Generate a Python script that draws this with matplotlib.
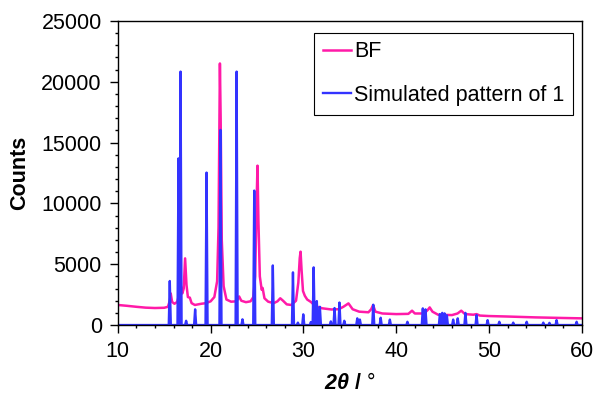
import numpy as np
import matplotlib
matplotlib.use("Agg")
import matplotlib.pyplot as plt
from matplotlib.ticker import MultipleLocator

plt.rcParams['font.family'] = ['Liberation Sans', 'DejaVu Sans']
plt.rcParams['mathtext.fontset'] = 'custom'
plt.rcParams['mathtext.rm'] = 'Liberation Sans'
plt.rcParams['mathtext.bf'] = 'Liberation Sans:bold'
plt.rcParams['mathtext.bfit'] = 'Liberation Sans:bold:italic'

bf_x = [10.0, 11.0, 12.0, 13.0, 14.0, 15.0, 15.4, 15.6, 15.7, 15.85, 16.1, 16.4, 16.6, 16.8,
        16.95, 17.1, 17.25, 17.4, 17.55, 17.76, 17.95, 18.3, 19.0, 19.5, 20.0, 20.4, 20.7,
        20.85, 20.95, 21.0, 21.08, 21.2, 21.4, 21.7, 22.2, 22.8, 23.07, 23.3, 23.8, 24.3,
        24.6, 24.8, 24.95, 25.05, 25.15, 25.3, 25.5, 25.6, 25.8, 26.2, 26.8, 27.2, 27.5,
        27.8, 28.2, 28.7, 29.2, 29.45, 29.6, 29.69, 29.8, 29.95, 30.15, 30.4, 30.8, 31.3,
        32.0, 33.0, 33.8, 34.3, 34.85, 35.3, 36.0, 37.0, 37.3, 37.5, 37.75, 38.5, 40.0,
        41.3, 41.7, 42.0, 43.0, 43.4, 43.6, 43.9, 44.5, 46.0, 46.6, 47.0, 47.4, 48.3,
        48.65, 49.0, 50.0, 52.0, 55.0, 58.0, 60.0]
bf_y = [1650, 1580, 1500, 1430, 1400, 1420, 1500, 2000, 2600, 1900, 1750, 1900, 2500, 3200,
        2600, 3000, 5480, 3300, 2300, 2250, 1800, 1650, 1750, 1800, 1950, 2300, 3600,
        8000, 17000, 21500, 17000, 7000, 3200, 2100, 1920, 1950, 2350, 2000, 1880, 1950,
        2300, 4000, 10000, 13100, 8500, 4000, 2900, 3050, 2200, 1920, 1800, 1950, 2200,
        2000, 1700, 1650, 2000, 3500, 5500, 6030, 4500, 2800, 2400, 2100, 1900, 1550,
        1380, 1280, 1300, 1500, 1780, 1300, 1100, 1050, 1300, 1640, 1100, 950, 900,
        920, 1180, 950, 950, 1250, 1450, 1100, 850, 820, 950, 1180, 900, 850,
        900, 780, 740, 700, 630, 580, 550]

# simulated pattern of 1: peak positions and heights
sim_pos = [15.60, 16.54, 16.76, 17.36, 18.33, 19.56, 21.06, 22.80, 23.43, 24.70, 26.70,
           28.87, 29.40, 29.98, 30.80, 31.10, 31.44, 31.77, 32.95, 33.35, 33.88, 34.40,
           35.80, 36.08, 37.52, 38.32, 39.31, 41.20, 42.86, 43.15, 44.70, 44.95, 45.20,
           45.45, 46.13, 46.62, 47.45, 48.65, 49.84, 51.10, 52.60, 54.05, 55.84, 56.50,
           57.27, 59.43]
sim_h = [3620, 13700, 20830, 350, 1290, 12530, 16040, 20830, 470, 11050, 4900,
         4330, 200, 880, 250, 4740, 1970, 1500, 300, 1400, 1850, 350,
         550, 450, 1670, 600, 450, 270, 1370, 1290, 900, 1000, 960,
         800, 450, 550, 1000, 820, 400, 270, 200, 270, 200, 180,
         400, 270]

# stick-like profile for the simulated pattern
sx, sy = [10.0], [0]
for p, h in zip(sim_pos, sim_h):
    sx += [p - 0.11, p, p + 0.11]
    sy += [0, h, 0]
sx.append(60.0)
sy.append(0)

fig = plt.figure(figsize=(5.95, 3.94), dpi=100)
ax = fig.add_axes([0.198, 0.175, 0.780, 0.772])

ax.plot(bf_x, bf_y, color='#ff1aa8', lw=1.8, label='BF')
ax.plot(sx, sy, color='#3333ff', lw=1.7, label='Simulated pattern of 1')

ax.set_xlim(10, 60)
ax.set_ylim(0, 25000)
ax.xaxis.set_major_locator(MultipleLocator(10))
ax.xaxis.set_minor_locator(MultipleLocator(2))
ax.yaxis.set_major_locator(MultipleLocator(5000))
ax.yaxis.set_minor_locator(MultipleLocator(1000))
ax.tick_params(which='major', direction='out', length=5.5, width=1, labelsize=15.5, pad=6)
ax.tick_params(which='minor', direction='out', length=2.5, width=1)
for s in ax.spines.values():
    s.set_linewidth(1)

ax.set_xlabel(r'$\mathbfit{2\theta}$ $\mathbf{/}$ °', fontsize=15.5, labelpad=8)
ax.set_ylabel('Counts', fontsize=15.5, fontweight='bold', labelpad=8)

leg = ax.legend(loc='upper right', bbox_to_anchor=(0.981, 0.961), borderaxespad=0,
                fontsize=15.5, fancybox=False, edgecolor='black', framealpha=1,
                handlelength=1.3, handletextpad=0.15, labelspacing=1.05,
                borderpad=0.4)
leg.get_frame().set_linewidth(0.8)

fig.savefig('out.png', dpi=100)
